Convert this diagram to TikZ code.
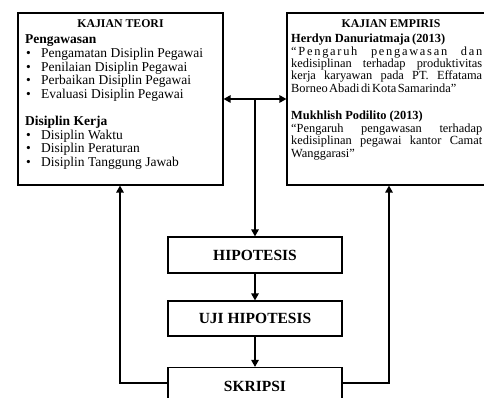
\documentclass[tikz,border=0pt]{standalone}
\usepackage{fontspec}
\setmainfont{Liberation Serif}
\usetikzlibrary{arrows.meta}
\newcommand\mybullet{\makebox[15pt][l]{•}}
\begin{document}
\begin{tikzpicture}[x=1pt,y=-1pt,
  box/.style={draw=black,line width=1.2pt,fill=white,inner sep=0pt},
  flowbox/.style={box,minimum width=174pt,minimum height=36pt,font=\fontsize{15.5}{16}\selectfont\bfseries},
  tip/.style={},
  arr/.style={line width=1.4pt,-{Triangle[length=7pt,width=7.5pt]}},
  ttl/.style={inner sep=0pt,anchor=base,font=\fontsize{11.8}{13}\selectfont\bfseries},
  ltxt/.style={inner sep=0pt,anchor=base west,font=\fontsize{13.5}{13.6}\selectfont},
  lhead/.style={ltxt,font=\fontsize{13.5}{13.6}\selectfont\bfseries},
  rtxt/.style={inner sep=0pt,anchor=base west,font=\fontsize{12.4}{12.3}\selectfont},
  rhead/.style={rtxt,font=\fontsize{12.4}{12.3}\selectfont\bfseries}
]
\useasboundingbox (0,0) rectangle (484,398);
\fill[white] (0,0) rectangle (484,398);
\clip (0,0) rectangle (484,398);

% boxes
\node[box,minimum width=205pt,minimum height=172pt] (teori) at (120.5,99) {};
\node[box,minimum width=208pt,minimum height=172pt] (empiris) at (391,99) {};
\node[flowbox] (hip) at (255,255) {HIPOTESIS};
\node[flowbox,minimum height=35pt] (uji) at (255,318.5) {UJI HIPOTESIS};
\node[flowbox,minimum height=37pt] (skr) at (255,386) {SKRIPSI};

% titles
\node[ttl] (t1) at (120.5,28) {KAJIAN TEORI};
\node[ttl] (t2) at (391,28) {KAJIAN EMPIRIS};

% left box text
\node[lhead] (a0) at (25,44) {Pengawasan};
\node[ltxt] (a1) at (26,57.6) {\mybullet Pengamatan Disiplin Pegawai};
\node[ltxt] (a2) at (26,71.2) {\mybullet Penilaian Disiplin Pegawai};
\node[ltxt] (a3) at (26,84.8) {\mybullet Perbaikan Disiplin Pegawai};
\node[ltxt] (a4) at (26,98.4) {\mybullet Evaluasi Disiplin Pegawai};
\node[lhead] (b0) at (25,125.6) {Disiplin Kerja};
\node[ltxt] (b1) at (26,139.2) {\mybullet Disiplin Waktu};
\node[ltxt] (b2) at (26,152.8) {\mybullet Disiplin Peraturan};
\node[ltxt] (b3) at (26,166.4) {\mybullet Disiplin Tanggung Jawab};

% right box text
\node[rhead] (c0) at (291,43) {Herdyn Danuriatmaja\hspace{-1pt} (2013)};
\node[rtxt] (c1) at (291,55.3) {\makebox[191pt][s]{\addfontfeature{LetterSpace=14}“Pengaruh pengawasan dan}};
\node[rtxt] (c2) at (291,67.6) {\makebox[191pt][s]{kedisiplinan terhadap produktivitas}};
\node[rtxt] (c3) at (291,79.9) {\makebox[191pt][s]{kerja karyawan pada PT. Effatama}};
\node[rtxt] (c4) at (291,92.2) {\spaceskip=1.5pt Borneo Abadi di Kota Samarinda”};
\node[rhead] (d0) at (291,120) {Mukhlish Podilito (2013)};
\node[rtxt] (d1) at (291,132.5) {\makebox[191pt][s]{“Pengaruh pengawasan terhadap}};
\node[rtxt] (d2) at (291,144.8) {\makebox[191pt][s]{kedisiplinan pegawai kantor Camat}};
\node[rtxt] (d3) at (291,157.1) {Wanggarasi”};

% connectors
\coordinate (j) at (teori.east -| hip.north);
\coordinate (lx) at (120,0);
\coordinate (rx) at (389,0);
\draw[arr,{Triangle[length=7pt,width=7.5pt]}-{Triangle[length=7pt,width=7.5pt]}] (teori.east) -- (empiris.west);
\draw[arr] (j) -- (hip.north);
\draw[arr] (hip) -- (uji);
\draw[arr] (uji) -- (skr);
\draw[arr] ([yshift=3pt]skr.west) -| (lx |- teori.south);
\draw[arr] ([yshift=3pt]skr.east) -| (rx |- empiris.south);
\end{tikzpicture}
\end{document}
